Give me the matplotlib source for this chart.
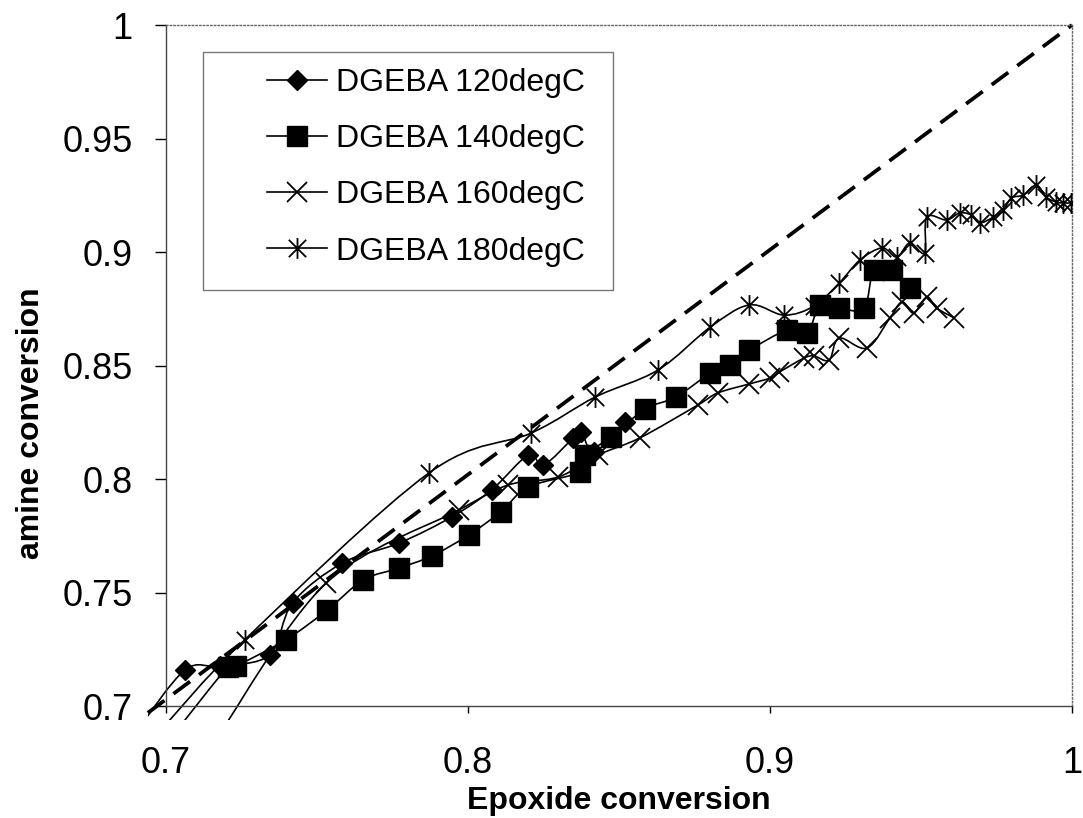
import numpy as np
import matplotlib
matplotlib.use("Agg")
import matplotlib.pyplot as plt
from matplotlib.path import Path
from matplotlib.patches import PathPatch, Rectangle
from matplotlib.lines import Line2D
from matplotlib.ticker import FuncFormatter

plt.rcParams["font.family"] = ["Liberation Sans", "DejaVu Sans"]

# values (epoxide conversion, amine conversion)
x120 = [0.6908, 0.7063, 0.7178, 0.7343, 0.7419, 0.7584, 0.7772, 0.7946, 0.8078,
        0.8200, 0.8250, 0.8349, 0.8375, 0.8418, 0.8520]
y120 = [0.6900, 0.7159, 0.7176, 0.7225, 0.7454, 0.7630, 0.7718, 0.7833, 0.7952,
        0.8106, 0.8062, 0.8181, 0.8207, 0.8119, 0.8251]

x140 = [0.7040, 0.7204, 0.7231, 0.7396, 0.7534, 0.7653, 0.7772, 0.7880, 0.8002,
        0.8108, 0.8200, 0.8372, 0.8388, 0.8474, 0.8586, 0.8688, 0.8803, 0.8866,
        0.8932, 0.9057, 0.9123, 0.9166, 0.9229, 0.9311, 0.9344, 0.9404, 0.9463]
y140 = [0.6900, 0.7172, 0.7176, 0.7291, 0.7423, 0.7555, 0.7608, 0.7661, 0.7753,
        0.7855, 0.7965, 0.8031, 0.8106, 0.8185, 0.8308, 0.8361, 0.8467, 0.8502,
        0.8568, 0.8656, 0.8643, 0.8767, 0.8753, 0.8753, 0.8921, 0.8921, 0.8841]

x160 = [0.7188, 0.7531, 0.7969, 0.8134, 0.8299, 0.8431, 0.8569, 0.8761, 0.8827,
        0.8932, 0.9001, 0.9031, 0.9113, 0.9146, 0.9196, 0.9229, 0.9321, 0.9397,
        0.9437, 0.9476, 0.9519, 0.9552, 0.9611]
y160 = [0.6900, 0.7542, 0.7863, 0.7974, 0.8009, 0.8106, 0.8181, 0.8326, 0.8379,
        0.8419, 0.8445, 0.8471, 0.8533, 0.8542, 0.8524, 0.8621, 0.8577, 0.8709,
        0.8780, 0.8731, 0.8802, 0.8753, 0.8709]

x180 = [0.6987, 0.7260, 0.7870, 0.8210, 0.8421, 0.8629, 0.8803, 0.8932, 0.9047,
        0.9146, 0.9229, 0.9298, 0.9371, 0.9420, 0.9463, 0.9512, 0.9519, 0.9585,
        0.9628, 0.9667, 0.9694, 0.9740, 0.9773, 0.9799, 0.9839, 0.9882, 0.9915,
        0.9948, 0.9971, 0.9997]
y180 = [0.6900, 0.7291, 0.8026, 0.8203, 0.8361, 0.8480, 0.8670, 0.8767, 0.8722,
        0.8762, 0.8863, 0.8965, 0.9018, 0.8978, 0.9040, 0.8996, 0.9154, 0.9141,
        0.9172, 0.9163, 0.9128, 0.9154, 0.9185, 0.9238, 0.9251, 0.9295, 0.9242,
        0.9220, 0.9216, 0.9216]

# the y = x reference line
ref_x = [0.694, 1.0]
ref_y = [0.697, 1.0]

labels = ["DGEBA 120degC", "DGEBA 140degC", "DGEBA 160degC", "DGEBA 180degC"]
xticks = [0.7, 0.8, 0.9, 1.0]
yticks = [0.7, 0.75, 0.8, 0.85, 0.9, 0.95, 1.0]

# excel-style asterisk: an X with a vertical bar
star = Path([(-1, -1), (1, 1), (-1, 1), (1, -1), (0, -1.2), (0, 1.2)],
            [Path.MOVETO, Path.LINETO] * 3)

styles = [
    dict(marker="D", ms=10, mfc="black", mec="black", mew=1),
    dict(marker="s", ms=14, mfc="black", mec="black", mew=1),
    dict(marker="x", ms=15, mfc="none", mec="black", mew=1.3),
    dict(marker=star, ms=15, mfc="none", mec="black", mew=1.3),
]


def smooth_path(xs, ys):
    # bezier through the points, like excel's smoothed line
    pts = np.column_stack([xs, ys])
    n = len(pts)
    verts = [pts[0]]
    codes = [Path.MOVETO]
    for i in range(n - 1):
        p0 = pts[i - 1] if i > 0 else pts[i]
        p1, p2 = pts[i], pts[i + 1]
        p3 = pts[i + 2] if i + 2 < n else pts[i + 1]
        verts += [p1 + (p2 - p0) / 6, p2 - (p3 - p1) / 6, p2]
        codes += [Path.CURVE4] * 3
    return Path(verts, codes)


fig = plt.figure(figsize=(10.83, 8.18), dpi=100)
ax = fig.add_axes([0.1533, 0.1369, 0.8365, 0.8325])
ax.set_xlim(0.7, 1.0)
ax.set_ylim(0.7, 1.0)

clip = Rectangle((-0.02, -0.02), 1.04, 1.04, transform=ax.transAxes,
                 fill=False, visible=False)
ax.add_artist(clip)

series = [(x120, y120), (x140, y140), (x160, y160), (x180, y180)]
for (xs, ys), st in zip(series, styles):
    patch = PathPatch(smooth_path(xs, ys), transform=ax.transData,
                      facecolor="none", edgecolor="black", lw=1.2, zorder=2)
    ax.add_patch(patch)
    patch.set_clip_path(clip)
    ax.plot(xs, ys, ls="none", zorder=3, **st)

ax.plot(ref_x, ref_y, color="black", lw=2.7, dashes=(5.5, 3.0),
        clip_on=False, zorder=2)

# legend box
ax.add_patch(Rectangle((0.0407, 0.611), 0.453, 0.349, transform=ax.transAxes,
                       facecolor="white", edgecolor="#777777", lw=1.0, zorder=4))
handles = [Line2D([], [], color="black", lw=1.2, **st) for st in styles]
leg = ax.legend(handles, labels, loc="upper left", bbox_to_anchor=(0.112, 0.937),
                frameon=False, fontsize=23, borderpad=0, borderaxespad=0,
                handlelength=1.85, handletextpad=0.3, labelspacing=0.82)
leg.set_zorder(5)

ax.set_xticks(xticks)
ax.set_yticks(yticks)
ax.xaxis.set_major_formatter(FuncFormatter(lambda v, p: f"{v:g}"))
ax.yaxis.set_major_formatter(FuncFormatter(lambda v, p: f"{v:g}"))
ax.tick_params(axis="x", direction="out", length=5, width=1, pad=24, labelsize=26)
ax.tick_params(axis="y", direction="out", length=8, width=1, pad=16, labelsize=26)

for side in ["left", "bottom"]:
    ax.spines[side].set_color("#444444")
    ax.spines[side].set_linewidth(1.0)
for side in ["top", "right"]:
    ax.spines[side].set_color("#666666")
    ax.spines[side].set_linestyle(":")
    ax.spines[side].set_linewidth(1.0)

ax.set_xlabel("Epoxide conversion", fontsize=23, fontweight="bold")
ax.set_ylabel("amine conversion", fontsize=23, fontweight="bold")
ax.xaxis.set_label_coords(0.5, -0.118)
ax.yaxis.set_label_coords(-0.133, 0.415)

fig.savefig("out.png", dpi=100)
